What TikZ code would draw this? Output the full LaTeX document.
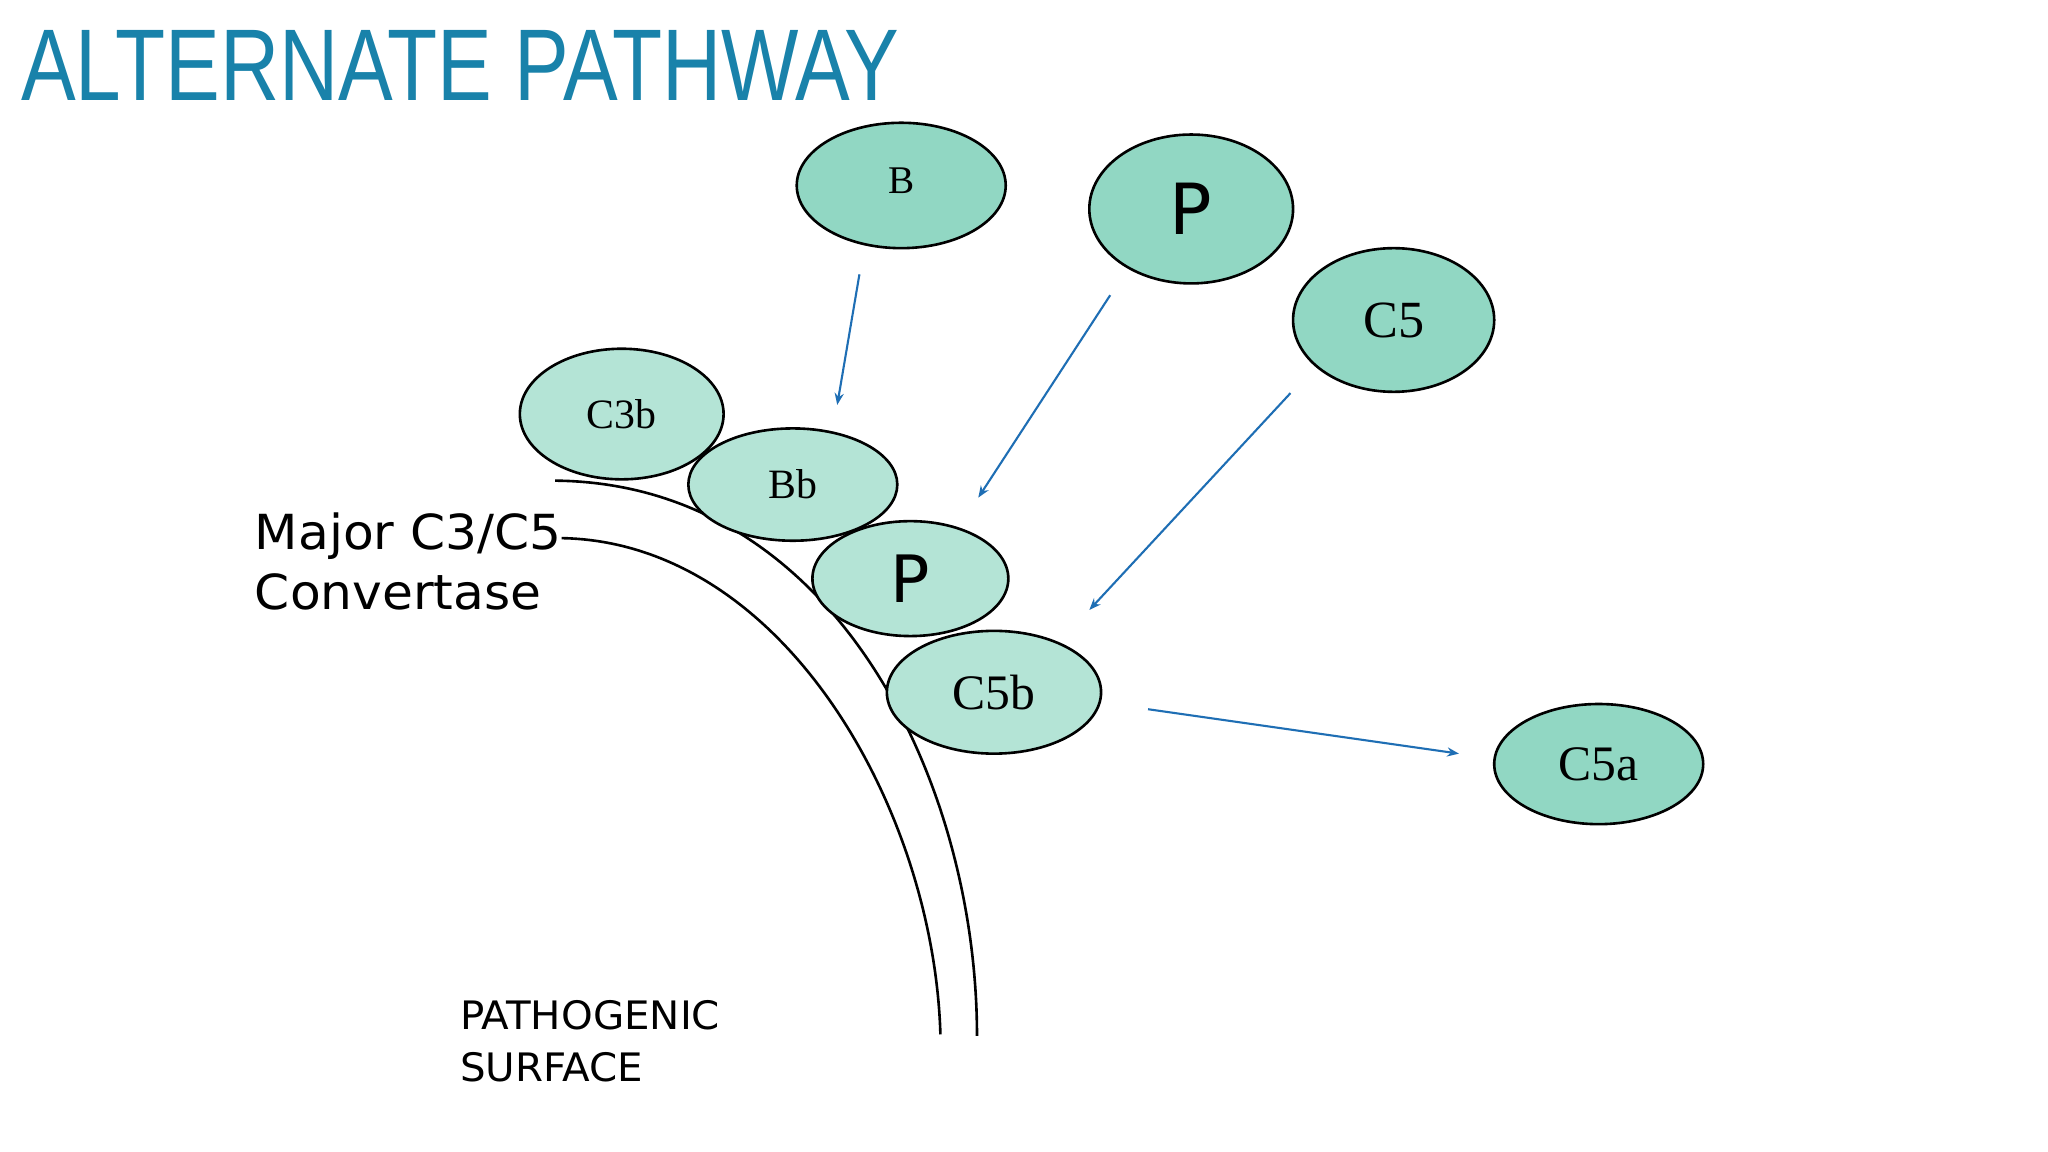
\documentclass[tikz,border=0pt]{standalone}
\usepackage{fontspec}
\setmainfont{Liberation Serif}
\newfontfamily\sansf{DejaVu Sans}
\newfontfamily\titlef{Liberation Sans}
\usetikzlibrary{shapes.geometric,arrows.meta}
\definecolor{darkTeal}{RGB}{145,215,195}
\definecolor{lightTeal}{RGB}{180,228,214}
\definecolor{arrowBlue}{RGB}{30,110,180}
\definecolor{titleBlue}{RGB}{25,130,170}
\newcommand{\fs}[1]{\fontsize{#1}{#1}\selectfont}
\begin{document}
\begin{tikzpicture}[x=1pt,y=-1pt,
  blob/.style={ellipse,draw=black,line width=2pt,inner sep=0pt},
  dark/.style={blob,fill=darkTeal},
  light/.style={blob,fill=lightTeal},
  flow/.style={draw=arrowBlue,line width=1.6pt,-{Stealth[length=9pt,width=7pt]}}]
\path[use as bounding box,fill=white] (0,0) rectangle (1568,882);
\node[anchor=base west,text=titleBlue,inner sep=0pt,xscale=0.805] (title) at (16,77) {\titlef\fs{78}ALTERNATE PATHWAY};
% membrane
\draw[line width=2pt] (425,368) .. controls (640,370) and (748,600) .. (748,793);
\draw[line width=2pt] (430,412) .. controls (600,415) and (715,620) .. (720,792);
% components
\node[dark,minimum width=160pt,minimum height=96pt] (B) at (690,142) {\raisebox{8pt}{\fs{30}B}};
\node[dark,minimum width=156pt,minimum height=114pt] (P1) at (912,160) {\sansf\fs{54}P};
\node[dark,minimum width=154pt,minimum height=110pt] (C5) at (1067,245) {\fs{40}C5};
\node[light,minimum width=156pt,minimum height=100pt] (C3b) at (476,317) {\fs{32}C3b};
\node[light,minimum width=160pt,minimum height=86pt] (Bb) at (607,371) {\fs{32}Bb};
\node[light,minimum width=150pt,minimum height=88pt] (P2) at (697,443) {\sansf\fs{50}P};
\node[light,minimum width=164pt,minimum height=94pt] (C5b) at (761,530) {\fs{38}C5b};
\node[dark,minimum width=160pt,minimum height=92pt] (C5a) at (1224,585) {\fs{38}C5a};
% arrow ends
\coordinate (b0) at (658,210); \coordinate (b1) at (641,310);
\coordinate (p0) at (850,226); \coordinate (p1) at (749,381);
\coordinate (c0) at (988,301); \coordinate (c1) at (834,467);
\coordinate (a0) at (879,543); \coordinate (a1) at (1117,577);
\draw[flow] (b0) -- (b1);
\draw[flow] (p0) -- (p1);
\draw[flow] (c0) -- (c1);
\draw[flow] (a0) -- (a1);
% labels
\node[anchor=base west,inner sep=0pt,xscale=1.04] (conv) at (195,421) {\sansf\fs{37}Major C3/C5};
\node[anchor=base west,inner sep=0pt,xscale=1.04] (conv2) at (195,467) {\sansf\fs{37}Convertase};
\node[anchor=base west,inner sep=0pt,xscale=1.03] (surf) at (352,788) {\sansf\fs{30}PATHOGENIC};
\node[anchor=base west,inner sep=0pt,xscale=1.03] (surf2) at (352,828) {\sansf\fs{30}SURFACE};
\end{tikzpicture}
\end{document}
